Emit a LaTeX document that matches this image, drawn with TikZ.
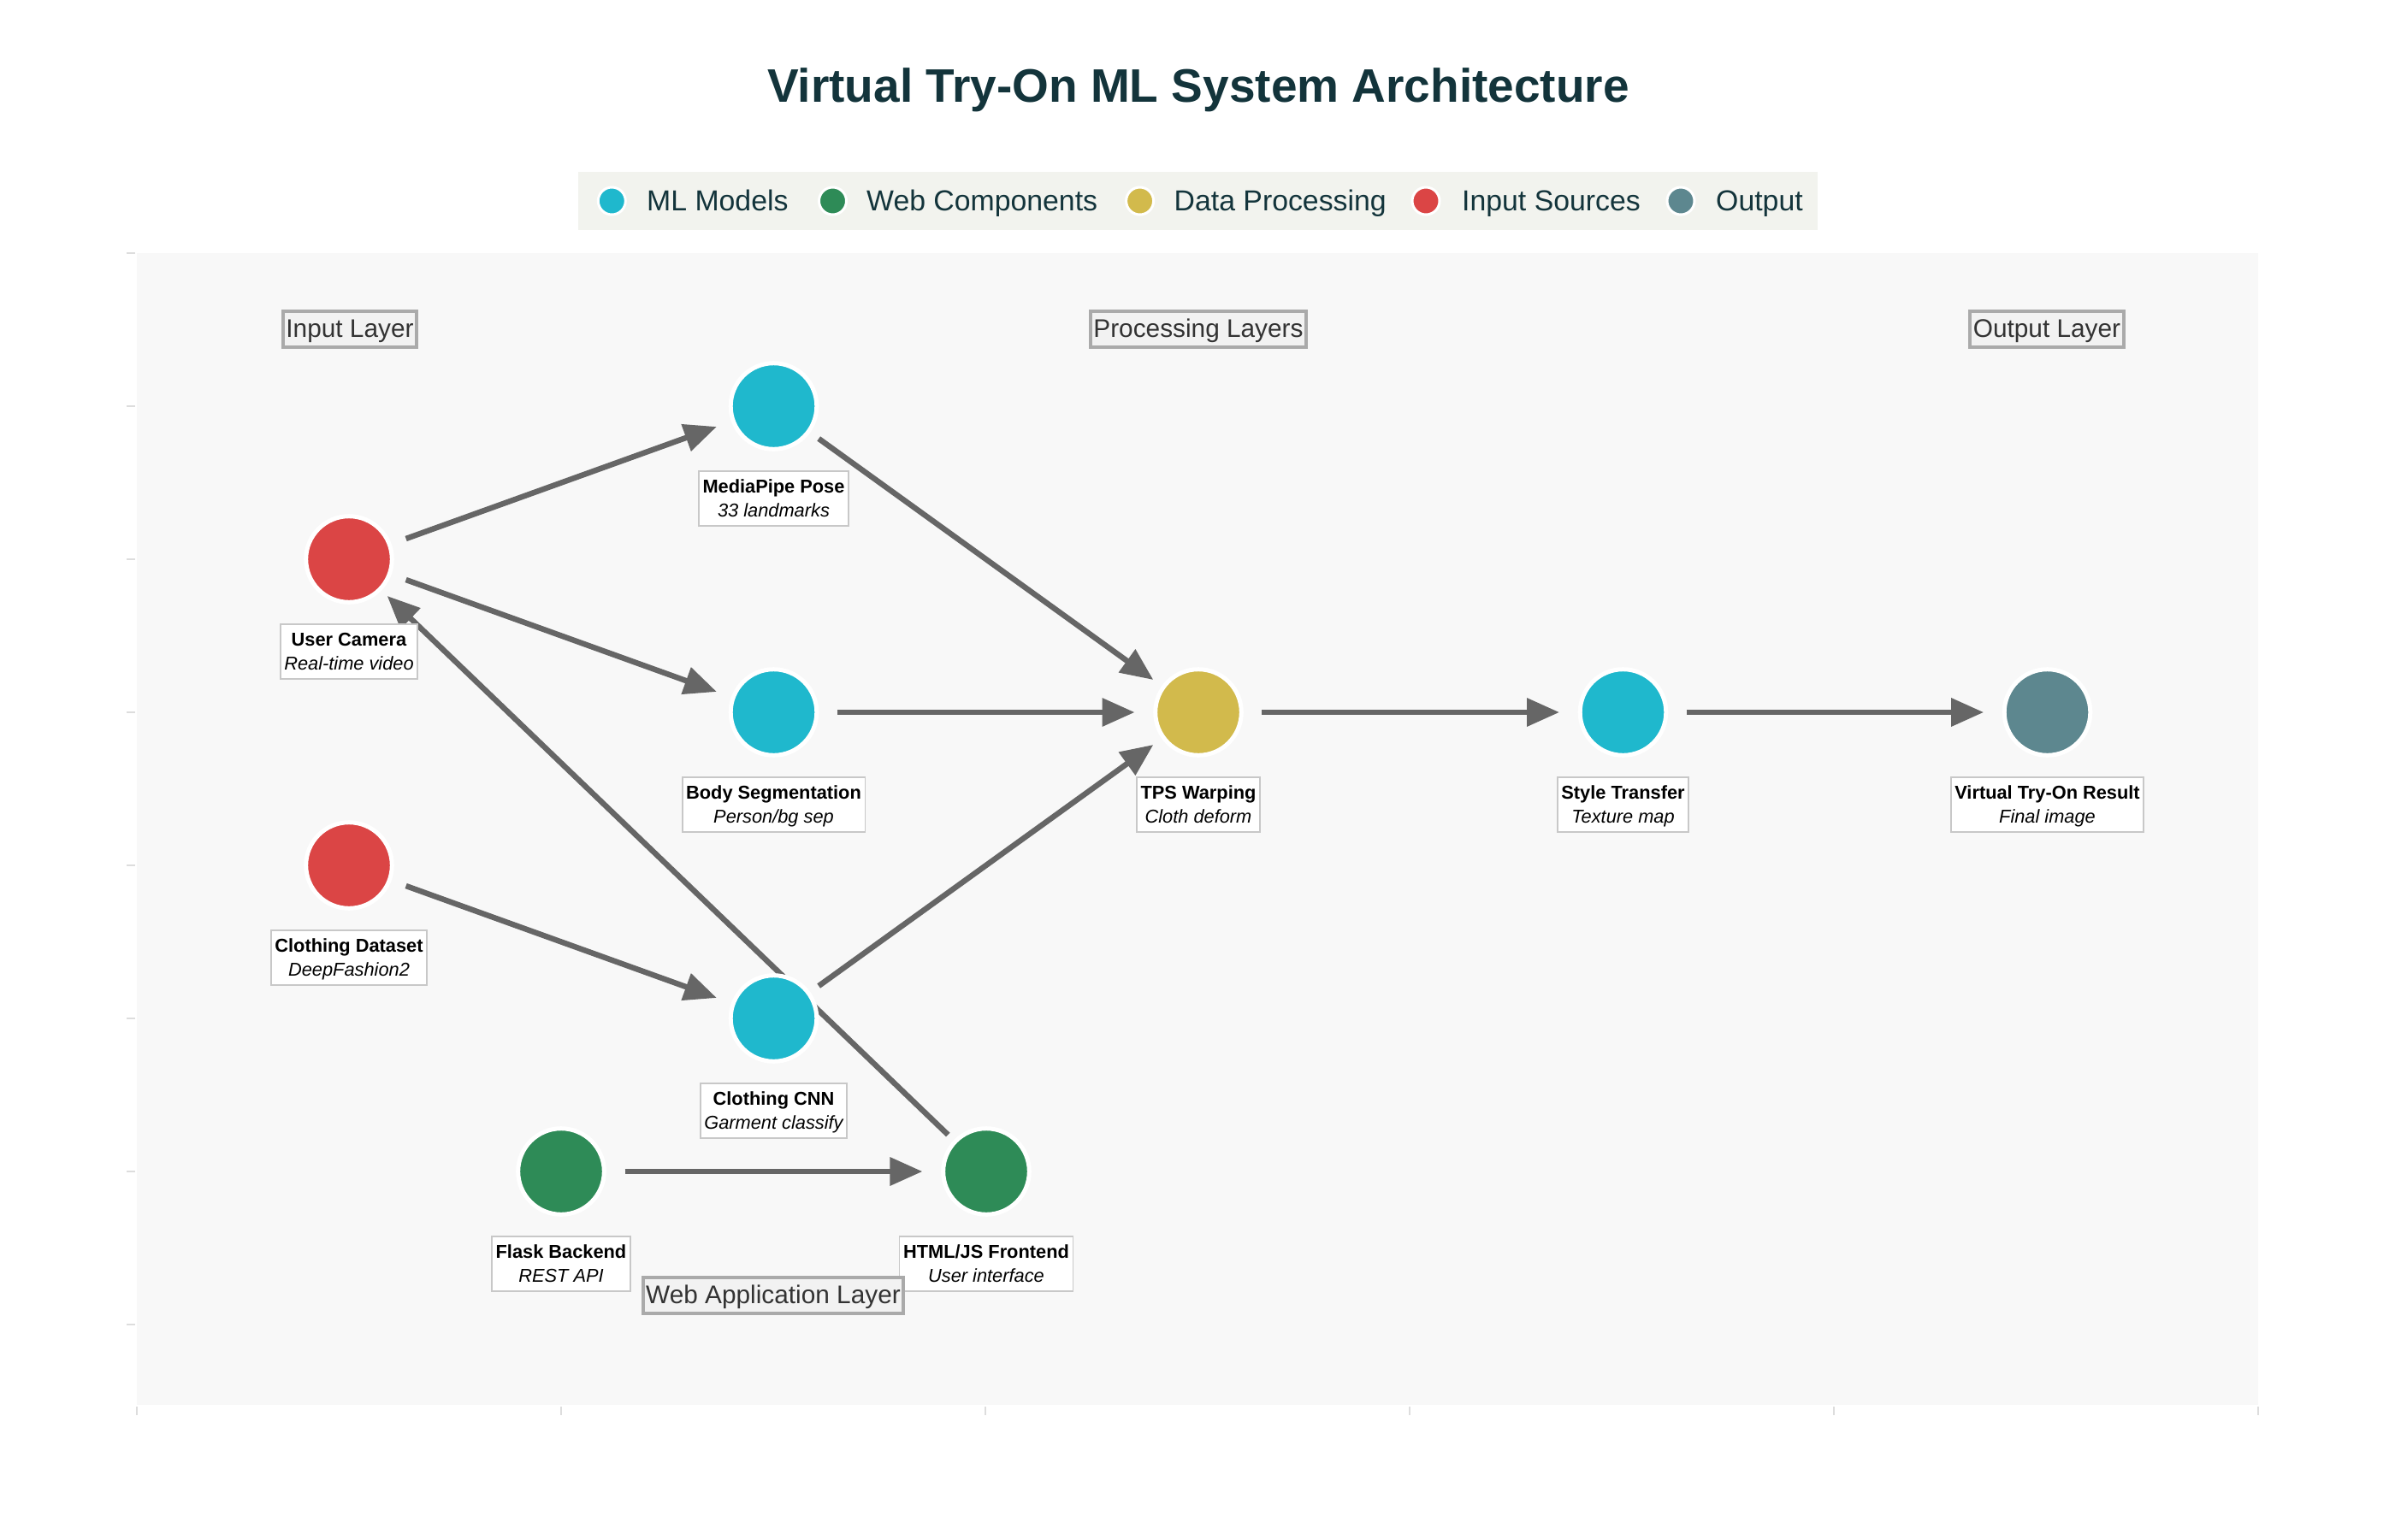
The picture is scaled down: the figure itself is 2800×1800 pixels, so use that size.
\documentclass[tikz,border=0pt]{standalone}
\usepackage{fontspec}
\setmainfont{Liberation Sans}
\usetikzlibrary{arrows.meta,calc}
\definecolor{mlc}{HTML}{1FB8CD}
\definecolor{webc}{HTML}{2E8B57}
\definecolor{datac}{HTML}{D2BA4C}
\definecolor{inc}{HTML}{DB4545}
\definecolor{outc}{HTML}{5D878F}
\definecolor{titlec}{HTML}{13343B}
\definecolor{edgec}{HTML}{666666}
\definecolor{plotbg}{HTML}{F8F8F8}
\definecolor{legbg}{RGB}{242,243,238}
\definecolor{tickc}{HTML}{DDDDDD}
\definecolor{nlabc}{HTML}{C8C8C8}
\definecolor{layc}{HTML}{AAAAAA}
\definecolor{layfill}{HTML}{F2F2F2}
\definecolor{laytext}{HTML}{333333}
\newcommand{\nodetxt}[2]{{\bfseries\rule{0pt}{19.3pt}#1}\\{\itshape #2\rule[-4.5pt]{0pt}{4.5pt}}}
\begin{document}
\begin{tikzpicture}[x=1pt,y=-1pt,
  dot/.style={circle, minimum size=100.6pt, inner sep=0pt, draw=white, line width=5pt},
  legdot/.style={circle, minimum size=32pt, inner sep=0pt, draw=white, line width=3pt},
  edge/.style={draw=edgec, line width=6.5pt, -{Triangle[length=38pt,width=32pt]}},
  nlab/.style={draw=nlabc, line width=1.7pt, fill=white, align=center, inner xsep=4.5pt, inner ysep=6.3pt,
    font=\fontsize{21.8}{27.6}\selectfont, text=black, anchor=north},
  lay/.style={draw=layc, line width=4pt, fill=layfill, text=laytext, font=\fontsize{29.8}{36}\selectfont,
    inner xsep=3.4pt, inner ysep=6.5pt, text height=23.5pt, text depth=5pt},
  legtxt/.style={anchor=base west, inner sep=0pt, text=titlec, font=\fontsize{33.8}{40}\selectfont},
  tick/.style={draw=tickc, line width=2pt}
]
\useasboundingbox (0,0) rectangle (2800,1800);
\fill[white] (0,0) rectangle (2800,1800);
% plot area
\fill[plotbg] (160,296) rectangle (2640,1643);
% ticks
\foreach \yy in {296,475,654,833,1012,1191,1370,1549} \draw[tick] (148,\yy) -- (158,\yy);
\foreach \xx in {160,656,1152,1648,2144,2640} \draw[tick, line width=1.2pt] (\xx,1645) -- (\xx,1655);

% title
\node[anchor=base, inner sep=0pt, text=titlec, font=\fontsize{55}{66}\selectfont\bfseries] (title) at (1401,119) {Virtual Try-On ML System Architecture};

% legend
\node[fill=legbg, minimum width=1449pt, minimum height=67.7pt, inner sep=0pt, anchor=north west] (leg) at (675.5,201) {};
\node[legdot, fill=mlc] (lg1) at (715.3,235) {};
\node[legtxt] (lt1) at (756,246) {ML Models};
\node[legdot, fill=webc] (lg2) at (973.5,235) {};
\node[legtxt] (lt2) at (1013,246) {Web Components};
\node[legdot, fill=datac] (lg3) at (1332.6,235) {};
\node[legtxt] (lt3) at (1372.5,246) {Data Processing};
\node[legdot, fill=inc] (lg4) at (1667,235) {};
\node[legtxt] (lt4) at (1709,246) {Input Sources};
\node[legdot, fill=outc] (lg5) at (1965,235) {};
\node[legtxt] (lt5) at (2006,246) {Output};

% node coordinates (circles drawn later, on top of edges)
\coordinate (cam) at (408,654);
\coordinate (mp) at (904.5,475);
\coordinate (bs) at (904.5,833);
\coordinate (cd) at (408,1012);
\coordinate (cnn) at (904.5,1191);
\coordinate (flask) at (656,1370);
\coordinate (html) at (1153,1370);
\coordinate (tps) at (1401,833);
\coordinate (st) at (1897.5,833);
\coordinate (res) at (2393.5,833);

% edges
\draw[edge] ($(cam)!0.1342!(mp)$) -- ($(mp)!0.1342!(cam)$);
\draw[edge] ($(cam)!0.1342!(bs)$) -- ($(bs)!0.1342!(cam)$);
\draw[edge] ($(html)!0.06!(cam)$) -- ($(cam)!0.06!(html)$);
\draw[edge] ($(cd)!0.1342!(cnn)$) -- ($(cnn)!0.1342!(cd)$);
\draw[edge] ($(mp)!0.1061!(tps)$) -- ($(tps)!0.1061!(mp)$);
\draw[edge] ($(bs)!0.15!(tps)$) -- ($(tps)!0.15!(bs)$);
\draw[edge] ($(cnn)!0.1061!(tps)$) -- ($(tps)!0.1061!(cnn)$);
\draw[edge] ($(flask)!0.15!(html)$) -- ($(html)!0.15!(flask)$);
\draw[edge] ($(tps)!0.15!(st)$) -- ($(st)!0.15!(tps)$);
\draw[edge] ($(st)!0.15!(res)$) -- ($(res)!0.15!(st)$);

% circles
\node[dot, fill=inc] (camN) at (cam) {};
\node[dot, fill=mlc] (mpN) at (mp) {};
\node[dot, fill=mlc] (bsN) at (bs) {};
\node[dot, fill=inc] (cdN) at (cd) {};
\node[dot, fill=mlc] (cnnN) at (cnn) {};
\node[dot, fill=webc] (flaskN) at (flask) {};
\node[dot, fill=webc] (htmlN) at (html) {};
\node[dot, fill=datac] (tpsN) at (tps) {};
\node[dot, fill=mlc] (stN) at (st) {};
\node[dot, fill=outc] (resN) at (res) {};

% node labels
\node[nlab] (camL) at ($(cam)+(0,75)$) {\nodetxt{User Camera}{Real-time video}};
\node[nlab] (mpL) at ($(mp)+(0,75)$) {\nodetxt{MediaPipe Pose}{33 landmarks}};
\node[nlab] (bsL) at ($(bs)+(0,75)$) {\nodetxt{Body Segmentation}{Person/bg sep}};
\node[nlab] (cdL) at ($(cd)+(0,75)$) {\nodetxt{Clothing Dataset}{DeepFashion2}};
\node[nlab] (cnnL) at ($(cnn)+(0,75)$) {\nodetxt{Clothing CNN}{Garment classify}};
\node[nlab] (flaskL) at ($(flask)+(0,75)$) {\nodetxt{Flask Backend}{REST API}};
\node[nlab] (htmlL) at ($(html)+(0,75)$) {\nodetxt{HTML/JS Frontend}{User interface}};
\node[nlab] (tpsL) at ($(tps)+(0,75)$) {\nodetxt{TPS Warping}{Cloth deform}};
\node[nlab] (stL) at ($(st)+(0,75)$) {\nodetxt{Style Transfer}{Texture map}};
\node[nlab] (resL) at ($(res)+(0,75)$) {\nodetxt{Virtual Try-On Result}{Final image}};

% layer labels
\node[lay] (l1) at (409,385) {Input Layer};
\node[lay] (l2) at (1401,385) {Processing Layers};
\node[lay] (l3) at (2393,385) {Output Layer};
\node[lay] (l4) at (904,1515) {Web Application Layer};
\end{tikzpicture}
\end{document}
